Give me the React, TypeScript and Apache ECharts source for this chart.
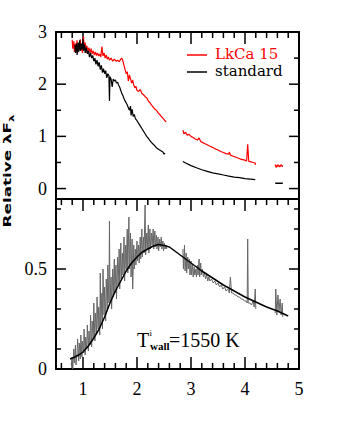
import React, { useEffect, useRef } from 'react';
import * as echarts from 'echarts';

// ---- axis extents and tick values ----
const X_MIN = 0.5, X_MAX = 5;
const TOP_Y_MIN = -0.2, TOP_Y_MAX = 3;
const BOT_Y_MIN = 0, BOT_Y_MAX = 0.85;
const xMajor = [1, 2, 3, 4, 5];
const xMinor = [0.6, 0.8, 1.2, 1.4, 1.6, 1.8, 2.2, 2.4, 2.6, 2.8, 3.2, 3.4, 3.6, 3.8, 4.2, 4.4, 4.6, 4.8];
const topYMajor = [0, 1, 2, 3];
const topYMinor = [0.5, 1.5, 2.5];
const botYMajor = [0, 0.5];
const botYMinor = [0.1, 0.2, 0.3, 0.4, 0.6, 0.7, 0.8];

// ---- top panel: LkCa 15 (red) ----
const redSeg1 = [
  [0.80, 2.85], [0.81, 2.68], [0.83, 2.82], [0.84, 2.62], [0.86, 2.78], [0.87, 2.66], [0.89, 2.84], [0.90, 2.6],
  [0.92, 2.76], [0.93, 2.68], [0.95, 2.86], [0.96, 2.64], [0.98, 2.78], [0.99, 2.6], [1.01, 2.92], [1.02, 2.66],
  [1.04, 2.8], [1.05, 2.6], [1.07, 2.74], [1.09, 2.64], [1.11, 2.7], [1.13, 2.6], [1.15, 2.68], [1.17, 2.58],
  [1.19, 2.64], [1.21, 2.56], [1.23, 2.62], [1.25, 2.55], [1.27, 2.6], [1.29, 2.54], [1.31, 2.58], [1.33, 2.52],
  [1.35, 2.72], [1.37, 2.54], [1.39, 2.6], [1.41, 2.5], [1.43, 2.56], [1.45, 2.48], [1.47, 2.52], [1.49, 2.46],
  [1.52, 2.5], [1.55, 2.44], [1.58, 2.48], [1.61, 2.44], [1.64, 2.46], [1.67, 2.43], [1.70, 2.48], [1.72, 2.5],
  [1.74, 2.44], [1.76, 2.36], [1.78, 2.28], [1.80, 2.2], [1.82, 2.24], [1.84, 2.06], [1.86, 2.18], [1.88, 2.1],
  [1.90, 2.02], [1.92, 2.08], [1.94, 1.98], [1.96, 1.93], [1.98, 1.96], [2.00, 1.88], [2.03, 1.86], [2.06, 1.9],
  [2.09, 1.82], [2.12, 1.8], [2.15, 1.76], [2.18, 1.74], [2.21, 1.68], [2.24, 1.64], [2.27, 1.6], [2.30, 1.56],
  [2.33, 1.52], [2.36, 1.5], [2.39, 1.45], [2.42, 1.42], [2.45, 1.38], [2.48, 1.35], [2.51, 1.31], [2.54, 1.28],
];
const redSeg2 = [
  [2.85, 1.12], [2.87, 1.05], [2.90, 1.08], [2.93, 1.02], [2.96, 1.04], [3.00, 1.0], [3.04, 0.98], [3.08, 0.95],
  [3.12, 0.93], [3.15, 0.97], [3.18, 0.9], [3.22, 0.88], [3.26, 0.86], [3.30, 0.84], [3.35, 0.81], [3.40, 0.79],
  [3.45, 0.76], [3.50, 0.74], [3.55, 0.71], [3.60, 0.69], [3.65, 0.67], [3.70, 0.66], [3.71, 0.7], [3.73, 0.64],
  [3.78, 0.62], [3.83, 0.6], [3.88, 0.58], [3.93, 0.56], [3.98, 0.55], [4.03, 0.53], [4.05, 0.85], [4.07, 0.52],
  [4.11, 0.51], [4.15, 0.5], [4.19, 0.49], [4.19, 0.45],
];
const redSeg3 = [[4.56, 0.46], [4.58, 0.41], [4.61, 0.45], [4.64, 0.42], [4.67, 0.45], [4.70, 0.42]];

// ---- top panel: standard (black) ----
const blackSeg1 = [
  [0.85, 2.75], [0.86, 2.6], [0.88, 2.78], [0.89, 2.56], [0.91, 2.8], [0.92, 2.62], [0.94, 2.84], [0.95, 2.64],
  [0.97, 2.78], [0.98, 2.66], [1.00, 2.86], [1.01, 2.64], [1.03, 2.76], [1.04, 2.6], [1.06, 2.7], [1.08, 2.58],
  [1.10, 2.64], [1.12, 2.52], [1.14, 2.6], [1.16, 2.5], [1.18, 2.55], [1.20, 2.44], [1.22, 2.5], [1.24, 2.38],
  [1.26, 2.46], [1.28, 2.34], [1.30, 2.42], [1.32, 2.28], [1.34, 2.36], [1.36, 2.22], [1.38, 2.3], [1.40, 2.2],
  [1.42, 2.26], [1.44, 2.12], [1.46, 2.2], [1.48, 2.16], [1.49, 1.68], [1.50, 2.14], [1.52, 2.1], [1.54, 1.95],
  [1.56, 2.1], [1.58, 2.06], [1.60, 2.08], [1.62, 2.02], [1.64, 2.04], [1.66, 1.98], [1.68, 1.94], [1.70, 1.88],
  [1.72, 1.82], [1.74, 1.78], [1.76, 1.72], [1.78, 1.68], [1.80, 1.64], [1.82, 1.6], [1.84, 1.55], [1.86, 1.5],
  [1.88, 1.58], [1.89, 1.4], [1.91, 1.52], [1.93, 1.38], [1.95, 1.42], [1.97, 1.34], [2.00, 1.3], [2.03, 1.25],
  [2.06, 1.2], [2.09, 1.15], [2.12, 1.1], [2.15, 1.05], [2.18, 1.0], [2.21, 0.96], [2.24, 0.92], [2.27, 0.88],
  [2.30, 0.85], [2.33, 0.82], [2.36, 0.78], [2.39, 0.76], [2.42, 0.74], [2.45, 0.72], [2.48, 0.7], [2.50, 0.66],
  [2.52, 0.68],
];
const blackSeg2 = [
  [2.85, 0.52], [2.9, 0.49], [3.0, 0.44], [3.1, 0.4], [3.2, 0.36], [3.3, 0.33], [3.4, 0.3], [3.5, 0.28],
  [3.6, 0.26], [3.7, 0.24], [3.8, 0.22], [3.9, 0.21], [4.0, 0.19], [4.1, 0.18], [4.19, 0.17],
];
const blackSeg3 = [[4.56, 0.1], [4.70, 0.1]];

// ---- bottom panel: observed excess (gray) ----
const graySeg1 = [
  [0.78, 0.02], [0.80, 0.06], [0.81, 0.0], [0.83, 0.1], [0.84, 0.03], [0.86, 0.12], [0.87, 0.02], [0.89, 0.08],
  [0.90, 0.15], [0.92, 0.04], [0.93, 0.13], [0.95, 0.05], [0.96, 0.17], [0.98, 0.06], [0.99, 0.14], [1.01, 0.08],
  [1.02, 0.2], [1.04, 0.07], [1.05, 0.16], [1.07, 0.1], [1.08, 0.22], [1.10, 0.09], [1.11, 0.19], [1.13, 0.12],
  [1.14, 0.27], [1.16, 0.11], [1.17, 0.24], [1.19, 0.15], [1.20, 0.33], [1.22, 0.14], [1.23, 0.28], [1.25, 0.18],
  [1.26, 0.36], [1.28, 0.2], [1.29, 0.31], [1.31, 0.17], [1.32, 0.48], [1.33, 0.22], [1.35, 0.38], [1.36, 0.2],
  [1.37, 0.5], [1.39, 0.27], [1.40, 0.41], [1.42, 0.24], [1.43, 0.45], [1.45, 0.3], [1.46, 0.52], [1.48, 0.33],
  [1.49, 0.74], [1.50, 0.34], [1.52, 0.46], [1.53, 0.3], [1.55, 0.5], [1.56, 0.36], [1.58, 0.55], [1.59, 0.38],
  [1.61, 0.52], [1.62, 0.35], [1.64, 0.56], [1.65, 0.42], [1.67, 0.6], [1.68, 0.4], [1.70, 0.63], [1.71, 0.45],
  [1.73, 0.58], [1.74, 0.47], [1.76, 0.66], [1.77, 0.44], [1.79, 0.62], [1.80, 0.5], [1.82, 0.7], [1.83, 0.48],
  [1.85, 0.76], [1.86, 0.5], [1.88, 0.68], [1.89, 0.46], [1.91, 0.65], [1.92, 0.4], [1.94, 0.62], [1.95, 0.5],
  [1.97, 0.6], [1.98, 0.52], [2.00, 0.64], [2.01, 0.54], [2.03, 0.62], [2.04, 0.53], [2.06, 0.66], [2.07, 0.55],
  [2.09, 0.7], [2.10, 0.56], [2.12, 0.66], [2.13, 0.58], [2.15, 0.82], [2.16, 0.57], [2.18, 0.68], [2.19, 0.6],
  [2.21, 0.72], [2.22, 0.58], [2.24, 0.7], [2.25, 0.6], [2.27, 0.68], [2.28, 0.62], [2.30, 0.7], [2.31, 0.6],
  [2.33, 0.69], [2.34, 0.61], [2.36, 0.67], [2.37, 0.6], [2.39, 0.66], [2.40, 0.59], [2.42, 0.65], [2.43, 0.61],
  [2.45, 0.66], [2.46, 0.6], [2.48, 0.64], [2.49, 0.59], [2.51, 0.63], [2.52, 0.6], [2.54, 0.62], [2.55, 0.6],
];
const graySeg2 = [
  [2.85, 0.6], [2.86, 0.5], [2.88, 0.62], [2.89, 0.49], [2.91, 0.58], [2.92, 0.48], [2.94, 0.56], [2.95, 0.5],
  [2.97, 0.55], [2.98, 0.47], [3.00, 0.54], [3.01, 0.47], [3.03, 0.52], [3.04, 0.46], [3.06, 0.51], [3.07, 0.47],
  [3.09, 0.5], [3.10, 0.46], [3.12, 0.52], [3.13, 0.47], [3.15, 0.55], [3.16, 0.46], [3.18, 0.53], [3.19, 0.47],
  [3.21, 0.5], [3.23, 0.46], [3.25, 0.48], [3.27, 0.45], [3.29, 0.47], [3.31, 0.44], [3.33, 0.46], [3.35, 0.44],
  [3.38, 0.45], [3.41, 0.43], [3.44, 0.44], [3.47, 0.42], [3.50, 0.43], [3.53, 0.41], [3.56, 0.42], [3.59, 0.4],
  [3.62, 0.41], [3.65, 0.39], [3.68, 0.4], [3.71, 0.38], [3.73, 0.46], [3.75, 0.38], [3.78, 0.38], [3.81, 0.37],
  [3.84, 0.37], [3.87, 0.36], [3.90, 0.36], [3.93, 0.35], [3.96, 0.35], [3.99, 0.34], [4.02, 0.34], [4.04, 0.33],
  [4.05, 0.65], [4.06, 0.33], [4.09, 0.33], [4.12, 0.32], [4.15, 0.34], [4.17, 0.31], [4.19, 0.4], [4.20, 0.3],
];
const graySeg3 = [
  [4.56, 0.28], [4.57, 0.4], [4.59, 0.27], [4.61, 0.37], [4.63, 0.29], [4.65, 0.35], [4.67, 0.27], [4.69, 0.33], [4.70, 0.26],
];

// ---- bottom panel: wall model (black curve) ----
const wallModel = [
  [0.76, 0.05], [0.85, 0.06], [0.95, 0.075], [1.0, 0.085], [1.1, 0.115], [1.2, 0.155], [1.3, 0.2], [1.4, 0.26],
  [1.5, 0.33], [1.6, 0.39], [1.7, 0.44], [1.8, 0.49], [1.9, 0.53], [2.0, 0.56], [2.1, 0.585], [2.2, 0.6],
  [2.3, 0.615], [2.4, 0.622], [2.5, 0.618], [2.6, 0.61], [2.7, 0.59], [2.8, 0.57], [3.0, 0.53], [3.2, 0.49],
  [3.4, 0.455], [3.6, 0.42], [3.8, 0.39], [4.0, 0.36], [4.2, 0.335], [4.4, 0.31], [4.6, 0.29], [4.8, 0.265],
];

const legendItems = [
  { name: 'LkCa 15', color: '#ff0000' },
  { name: 'standard', color: '#000000' },
];

// ---- layout ----
const GRIDS = [
  { left: 56, top: 32, width: 243, height: 167, ymin: TOP_Y_MIN, ymax: TOP_Y_MAX },
  { left: 56, top: 199, width: 243, height: 170, ymin: BOT_Y_MIN, ymax: BOT_Y_MAX },
];

const SERIF = "'Liberation Serif', 'Times New Roman', Times, serif";
const FRAME = { color: '#000', width: 2 };
const LABEL = { color: '#000', fontFamily: SERIF, fontSize: 18 };

function ax(grid: number, pos: string, min: number, max: number, labels: number[] | null, margin = 9) {
  return {
    type: 'value', gridIndex: grid, position: pos, min, max,
    axisLine: { show: true, onZero: false, lineStyle: FRAME },
    axisTick: { show: false },
    axisLabel: labels ? { show: true, customValues: labels, margin, ...LABEL } : { show: false },
    splitLine: { show: false },
  };
}

function lineSeries(data: number[][], color: string, width: number, xi: number, yi: number, z = 2) {
  return {
    type: 'line', data, xAxisIndex: xi, yAxisIndex: yi, showSymbol: false, symbol: 'none',
    lineStyle: { color, width }, z, silent: true, clip: true,
  };
}

export default function App() {
  const ref = useRef<HTMLDivElement>(null);
  useEffect(() => {
    if (!ref.current) return;
    const chart = echarts.init(ref.current, null, { renderer: 'svg' });

    const graphics: any[] = [];
    legendItems.forEach((it, i) => {
      const y = 55 + i * 17;
      graphics.push({ type: 'line', shape: { x1: 187, y1: y, x2: 207, y2: y }, style: { stroke: it.color, lineWidth: 1.5 } });
      graphics.push({
        type: 'text', x: 215, y: y - 1,
        style: { text: it.name, fill: it.color, fontFamily: 'DejaVu Serif', fontSize: 15, align: 'left', verticalAlign: 'middle' },
      });
    });

    // inward tick marks: same element kind as the legend lines, positioned by each grid's linear mapping
    const toPx = (g: number, x: number, y: number) => {
      const G = GRIDS[g];
      return [
        G.left + ((x - X_MIN) / (X_MAX - X_MIN)) * G.width,
        G.top + G.height - ((y - G.ymin) / (G.ymax - G.ymin)) * G.height,
      ];
    };
    const addTicks = (g: number, pts: number[][], dx: number, dy: number) => {
      pts.forEach((p) => {
        const c = toPx(g, p[0], p[1]);
        graphics.push({
          type: 'line',
          shape: { x1: c[0], y1: c[1], x2: c[0] + dx, y2: c[1] + dy },
          style: { stroke: '#000000', lineWidth: 1.5 },
        });
      });
    };
    const atY = (vals: number[], y: number) => vals.map((v) => [v, y]);
    const atX = (vals: number[], x: number) => vals.map((v) => [x, v]);
    addTicks(0, atY(xMajor, TOP_Y_MAX), 0, 12);
    addTicks(0, atY(xMinor, TOP_Y_MAX), 0, 6);
    addTicks(0, atX(topYMajor, X_MIN), 10, 0);
    addTicks(0, atX(topYMinor, X_MIN), 5, 0);
    addTicks(0, atX(topYMajor, X_MAX), -10, 0);
    addTicks(0, atX(topYMinor, X_MAX), -5, 0);
    addTicks(1, atY(xMajor, BOT_Y_MAX), 0, 12);
    addTicks(1, atY(xMinor, BOT_Y_MAX), 0, 6);
    addTicks(1, atY(xMajor, BOT_Y_MIN), 0, -12);
    addTicks(1, atY(xMinor, BOT_Y_MIN), 0, -6);
    addTicks(1, atX(botYMajor, X_MIN), 10, 0);
    addTicks(1, atX(botYMinor, X_MIN), 5, 0);
    addTicks(1, atX(botYMajor, X_MAX), -10, 0);
    addTicks(1, atX(botYMinor, X_MAX), -5, 0);

    graphics.push(
      {
        type: 'text', x: 7, y: 171, rotation: Math.PI / 2, scaleX: 1.68,
        style: {
          text: '{a|Relative λF}{b|λ}', align: 'center', verticalAlign: 'middle', fill: '#000',
          rich: {
            a: { fontFamily: 'DejaVu Sans', fontWeight: 'bold', fontSize: 10, lineHeight: 16, verticalAlign: 'middle', fill: '#000' },
            b: { fontFamily: 'DejaVu Sans', fontWeight: 'bold', fontSize: 7, lineHeight: 8, verticalAlign: 'bottom', fill: '#000' },
          },
        },
      },
      { type: 'text', x: 137, y: 340, style: { text: 'T', fill: '#000', fontFamily: SERIF, fontSize: 20, align: 'left', verticalAlign: 'middle' } },
      { type: 'text', x: 149.5, y: 333, style: { text: 'i', fill: '#000', fontFamily: SERIF, fontSize: 9, align: 'left', verticalAlign: 'middle' } },
      { type: 'text', x: 150, y: 345.5, style: { text: 'wall', fill: '#000', fontFamily: SERIF, fontWeight: 'bold', fontSize: 11, align: 'left', verticalAlign: 'middle' } },
      { type: 'text', x: 169, y: 340, style: { text: '=1550 K', fill: '#000', fontFamily: SERIF, fontSize: 20, align: 'left', verticalAlign: 'middle' } },
    );

    chart.setOption({
      animation: false,
      backgroundColor: '#fff',
      grid: GRIDS.map((g) => ({ left: g.left, top: g.top, width: g.width, height: g.height, containLabel: false, outerBoundsMode: 'none' })),
      xAxis: [
        ax(0, 'bottom', X_MIN, X_MAX, null),
        ax(0, 'top', X_MIN, X_MAX, null),
        ax(1, 'bottom', X_MIN, X_MAX, xMajor, 11),
        ax(1, 'top', X_MIN, X_MAX, null),
      ],
      yAxis: [
        ax(0, 'left', TOP_Y_MIN, TOP_Y_MAX, topYMajor),
        ax(0, 'right', TOP_Y_MIN, TOP_Y_MAX, null),
        ax(1, 'left', BOT_Y_MIN, BOT_Y_MAX, botYMajor),
        ax(1, 'right', BOT_Y_MIN, BOT_Y_MAX, null),
      ],
      series: [
        lineSeries(redSeg1, '#ff0000', 1.2, 0, 0),
        lineSeries(redSeg2, '#ff0000', 1.2, 0, 0),
        lineSeries(redSeg3, '#ff0000', 1.5, 0, 0),
        lineSeries(blackSeg1, '#000000', 1.2, 0, 0, 3),
        lineSeries(blackSeg2, '#000000', 1.2, 0, 0, 3),
        lineSeries(blackSeg3, '#000000', 1.5, 0, 0, 3),
        lineSeries(graySeg1, '#666666', 1, 2, 2),
        lineSeries(graySeg2, '#666666', 1, 2, 2),
        lineSeries(graySeg3, '#666666', 1, 2, 2),
        lineSeries(wallModel, '#000000', 1.5, 2, 2, 3),
      ],
      graphic: graphics,
    });
    return () => chart.dispose();
  }, []);
  return <div ref={ref} style={{ position: 'fixed', left: 0, top: 0, width: 358, height: 429 }} />;
}
